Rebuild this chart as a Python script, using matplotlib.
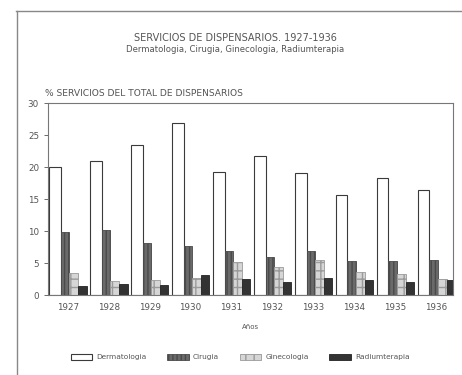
import numpy as np
import matplotlib.pyplot as plt
from matplotlib.lines import Line2D

years = ["1927", "1928", "1929", "1930", "1931", "1932", "1933", "1934", "1935", "1936"]
dermatologia = [20.0, 21.0, 23.4, 26.9, 19.3, 21.7, 19.1, 15.6, 18.3, 16.4]
cirugia = [9.8, 10.1, 8.2, 7.7, 6.9, 6.0, 6.9, 5.3, 5.3, 5.5]
ginecologia = [3.5, 2.2, 2.3, 2.7, 5.2, 4.4, 5.5, 3.6, 3.3, 2.5]
radiumterapia = [1.5, 1.7, 1.6, 3.2, 2.5, 2.0, 2.6, 2.3, 2.0, 2.4]

txt = "#555555"
edge = "#3a3a3a"

fig = plt.figure(figsize=(4.62, 3.75), dpi=100)
ax = fig.add_axes([0.104, 0.213, 0.876, 0.512])

x = np.arange(len(years))
ax.bar(x, dermatologia, width=0.29, align="edge", color="white",
       edgecolor=edge, linewidth=0.8, label="Dermatologia")
ax.bar(x + 0.29, cirugia, width=0.21, align="edge", color="#6a6a6a",
       edgecolor="#4a4a4a", linewidth=0.6, hatch="||||", label="Cirugia")
ax.bar(x + 0.50, ginecologia, width=0.21, align="edge", color="#d6d6d6",
       edgecolor="#9a9a9a", linewidth=0.6, hatch="++", label="Ginecologia")
ax.bar(x + 0.71, radiumterapia, width=0.21, align="edge", color="#333333",
       edgecolor="#222222", linewidth=0.6, label="Radiumterapia")

ax.set_xlim(-0.02, 9.86)
ax.set_ylim(0, 30)
ax.set_yticks([0, 5, 10, 15, 20, 25, 30])
ax.set_xticks(x + 0.46)
ax.set_xticklabels(years)
ax.tick_params(axis="both", colors=txt, labelsize=6.3, length=3, width=0.6)
ax.tick_params(axis="x", length=0, pad=6)
for s in ax.spines.values():
    s.set_color("#777777")
    s.set_linewidth(0.8)

ax.set_xlabel("Años", fontsize=5, color=txt, labelpad=8)

fig.text(0.51, 0.899, "SERVICIOS DE DISPENSARIOS. 1927-1936", ha="center",
         va="center", fontsize=7, color=txt)
fig.text(0.51, 0.867, "Dermatologia, Cirugia, Ginecologia, Radiumterapia",
         ha="center", va="center", fontsize=6.1, color=txt)
fig.text(0.097, 0.752, "% SERVICIOS DEL TOTAL DE DISPENSARIOS", ha="left",
         va="center", fontsize=6.6, color=txt)

fig.legend(loc="center", bbox_to_anchor=(0.52, 0.048), ncol=4, frameon=False,
           fontsize=5.3, handlelength=2.9, handleheight=1.0, columnspacing=2.8,
           handletextpad=0.6, labelcolor=txt)

# page border of the scanned sheet
fig.add_artist(Line2D([0.035, 1.0], [0.972, 0.972], color="#888888", lw=1.0))
fig.add_artist(Line2D([0.037, 0.037], [0.0, 0.972], color="#888888", lw=1.0))

fig.savefig("out.png", dpi=100)
